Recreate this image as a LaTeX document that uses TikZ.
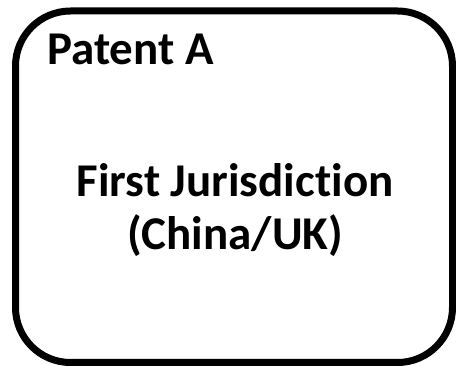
\documentclass[tikz,border=0pt]{standalone}
\usepackage{fontspec}
\setmainfont[RawFeature={-liga}]{Carlito}
\begin{document}
\begin{tikzpicture}[x=1pt,y=-1pt,
  frame/.style={draw=black,line width=7pt,rounded corners=55pt},
  lbl/.style={font=\fontsize{47}{53}\selectfont\bfseries,inner sep=0pt,anchor=base}]
\useasboundingbox (0,0) rectangle (456,366);
\draw[frame] (15.5,11) rectangle (452.5,362.5);
\node[lbl,anchor=base west] (title) at (47,65) {Patent A};
\node[lbl] (l1) at (235,197) {First Jurisdiction};
\node[lbl] (l2) at (235,250) {(China/UK)};
\end{tikzpicture}
\end{document}
